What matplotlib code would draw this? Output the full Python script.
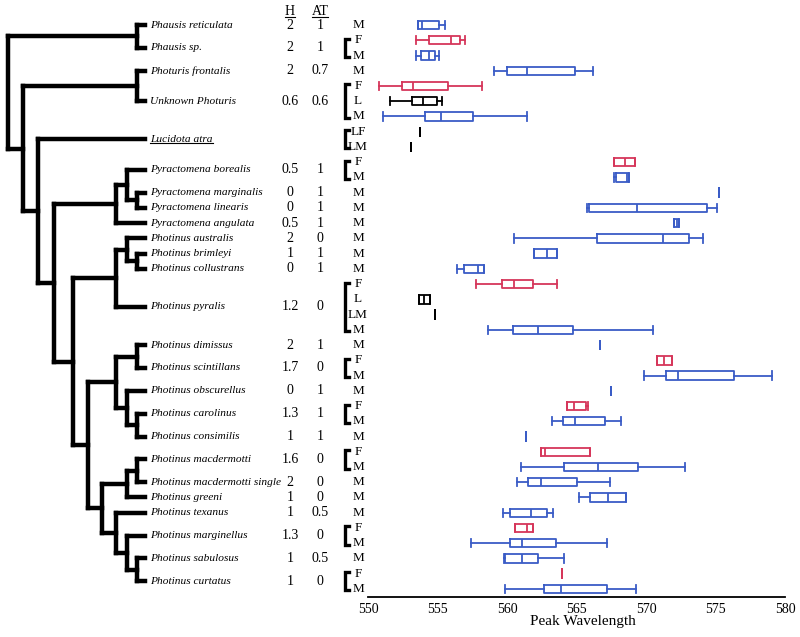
import matplotlib.pyplot as plt
from matplotlib.lines import Line2D

plt.rcParams['font.family'] = ['Liberation Serif', 'DejaVu Serif']

# species (tree leaves, top to bottom) with H / AT columns and sampled sexes
species = ["Phausis reticulata", "Phausis sp.", "Photuris frontalis", "Unknown Photuris",
           "Lucidota atra", "Pyractomena borealis", "Pyractomena marginalis",
           "Pyractomena linearis", "Pyractomena angulata", "Photinus australis",
           "Photinus brimleyi", "Photinus collustrans", "Photinus pyralis",
           "Photinus dimissus", "Photinus scintillans", "Photinus obscurellus",
           "Photinus carolinus", "Photinus consimilis", "Photinus macdermotti",
           "Photinus macdermotti single", "Photinus greeni", "Photinus texanus",
           "Photinus marginellus", "Photinus sabulosus", "Photinus curtatus"]
h_vals = ["2", "2", "2", "0.6", "", "0.5", "0", "0", "0.5", "2", "1", "0", "1.2",
          "2", "1.7", "0", "1.3", "1", "1.6", "2", "1", "1", "1.3", "1", "1"]
at_vals = ["1", "1", "0.7", "0.6", "", "1", "1", "1", "1", "0", "1", "1", "0",
           "1", "0", "1", "1", "1", "0", "0", "0", "0.5", "0", "0.5", "0"]
sexes = [["M"], ["F", "M"], ["M"], ["F", "L", "M"], ["LF", "LM"], ["F", "M"], ["M"], ["M"],
         ["M"], ["M"], ["M"], ["M"], ["F", "L", "LM", "M"], ["M"], ["F", "M"], ["M"],
         ["F", "M"], ["M"], ["F", "M"], ["M"], ["M"], ["M"], ["F", "M"], ["M"], ["F", "M"]]

# cladogram as nested pairs of species indices
tree = ((0, 1), ((2, 3), (4, ((((5, (6, 7)), 8)),
        (((9, (10, 11)), 12), (((13, 14), (15, (16, 17))), (((18, 19), 20), (21, (22, (23, 24))))))))))

# box statistics per row (rows follow the sexes lists in order)
whislo = [553.62, 553.45, 553.43, 559.06, 550.79, 551.56, 551.10, 553.74, 553.07, 567.70,
          567.70, 575.23, 565.73, 572.04, 560.50, 561.97, 556.43, 557.74, 553.67, 554.82,
          558.66, 566.69, 570.77, 569.86, 567.46, 564.34, 563.21, 561.37, 562.47, 560.98,
          560.74, 565.18, 559.73, 560.58, 557.38, 559.81, 563.93, 559.86]
q1 = [553.62, 554.41, 553.81, 560.02, 552.47, 553.14, 554.10, 553.74, 553.07, 567.70,
      567.84, 575.23, 565.90, 572.04, 566.50, 561.97, 556.94, 559.66, 553.67, 554.82,
      560.46, 566.69, 570.77, 571.44, 567.46, 564.34, 564.05, 561.37, 562.47, 564.12,
      561.53, 565.97, 560.22, 560.58, 560.22, 559.86, 563.93, 562.69]
med = [553.86, 556.00, 554.41, 561.41, 553.26, 553.97, 555.28, 553.74, 553.07, 568.46,
       568.65, 575.23, 569.35, 572.20, 571.25, 562.86, 557.94, 560.50, 554.05, 554.82,
       562.25, 566.69, 571.29, 572.28, 567.46, 564.82, 564.87, 561.37, 562.71, 566.58,
       562.45, 567.24, 561.73, 561.41, 561.10, 561.05, 563.93, 563.88]
q3 = [555.11, 556.60, 554.82, 564.89, 555.78, 554.94, 557.53, 553.74, 553.07, 569.23,
      568.75, 575.23, 574.41, 572.40, 573.12, 563.62, 558.38, 561.89, 554.46, 554.82,
      564.77, 566.69, 571.85, 576.36, 567.46, 565.66, 567.07, 561.37, 565.97, 569.45,
      565.06, 568.56, 562.90, 561.89, 563.50, 562.20, 563.93, 567.17]
whishi = [555.54, 557.00, 555.11, 566.21, 558.22, 555.35, 561.46, 553.74, 553.07, 569.23,
          568.75, 575.23, 575.14, 572.40, 574.10, 563.62, 558.38, 563.57, 554.46, 554.82,
          570.53, 566.69, 571.85, 579.04, 567.46, 565.85, 568.17, 561.37, 565.97, 572.80,
          567.41, 568.56, 563.33, 561.89, 567.17, 564.12, 563.93, 569.26]

sex_colors = {"F": "#d6365a", "M": "#3a5cc6", "L": "black", "LF": "black", "LM": "black"}

row_sex = [s for group in sexes for s in group]
n_rows = len(row_sex)

fig = plt.figure(figsize=(8, 6.37), dpi=100)
bottom = 40 / 637
height = 587.2 / 637
ax = fig.add_axes([368 / 800, bottom, 417 / 800, height])
axt = fig.add_axes([0, bottom, 368 / 800, height], sharey=ax)

# ---- box plots
stats = []
for i in range(n_rows):
    stats.append(dict(whislo=whislo[i], q1=q1[i], med=med[i], q3=q3[i], whishi=whishi[i], fliers=[]))
bp = ax.bxp(stats, positions=range(n_rows), widths=0.55, capwidths=0.55,
            orientation='horizontal', showfliers=False, manage_ticks=False)
for i, s in enumerate(row_sex):
    c = sex_colors[s]
    bp['boxes'][i].set(color=c, linewidth=1.3)
    bp['medians'][i].set(color=c, linewidth=1.3)
    for art in bp['whiskers'][2 * i:2 * i + 2] + bp['caps'][2 * i:2 * i + 2]:
        art.set(color=c, linewidth=1.3)

ax.set_xlim(550, 580)
ax.set_ylim(n_rows - 0.47, -1)
ax.set_xticks(range(550, 581, 5))
ax.tick_params(axis='x', length=0, labelsize=10, pad=4)
ax.set_yticks([])
for side in ["top", "right", "left"]:
    ax.spines[side].set_visible(False)
ax.spines["bottom"].set_linewidth(1.3)
ax.set_xlabel("Peak Wavelength", fontsize=11)
ax.xaxis.set_label_coords(0.515, -0.031)

# ---- tree and columns (x in pixel-like units of the left panel)
axt.set_xlim(0, 368)
axt.axis("off")
level_x = [145, 137, 127, 116, 102, 88, 73, 54, 38, 23, 8]

leaf_y = []
r = 0
for group in sexes:
    leaf_y.append(r + (len(group) - 1) / 2)
    r += len(group)


def draw(node):
    if isinstance(node, int):
        return leaf_y[node], 0
    kids = [draw(k) for k in node]
    h = max(k[1] for k in kids) + 1
    x = level_x[h]
    ys = [k[0] for k in kids]
    axt.plot([x, x], [min(ys), max(ys)], color="black", lw=3.2, solid_capstyle="projecting")
    for ky, kh in kids:
        axt.plot([x, level_x[kh]], [ky, ky], color="black", lw=3.2, solid_capstyle="projecting")
    return sum(ys) / len(ys), h


draw(tree)

underline = []
r = 0
for i, name in enumerate(species):
    t = axt.text(150, leaf_y[i], name, style="italic", fontsize=8.2, va="center", ha="left")
    if name == "Lucidota atra":
        underline.append(t)
    axt.text(290, leaf_y[i], h_vals[i], fontsize=10, va="center", ha="center")
    axt.text(320, leaf_y[i], at_vals[i], fontsize=10, va="center", ha="center")
    group = sexes[i]
    for j, s in enumerate(group):
        axt.text(358, r + j, s, fontsize=9.5, va="center", ha="center")
    if len(group) > 1:
        axt.plot([348.5, 344.5, 344.5, 348.5], [r - 0.1, r - 0.1, r + len(group) - 0.9, r + len(group) - 0.9],
                 color="black", lw=2.4, solid_joinstyle="miter", clip_on=False)
    r += len(group)

for label, x in [("H", 290), ("AT", 320)]:
    underline.append(axt.text(x, -0.88, label, fontsize=10, va="center", ha="center"))

fig.canvas.draw()
renderer = fig.canvas.get_renderer()
inv = fig.transFigure.inverted()
for t in underline:
    bb = t.get_window_extent(renderer)
    (x0, y0), (x1, _) = inv.transform([(bb.x0, bb.y0 + 1), (bb.x1, bb.y0 + 1)])
    fig.add_artist(Line2D([x0, x1], [y0, y0], color="black", lw=0.8, transform=fig.transFigure))

fig.savefig("out.png", dpi=100)
